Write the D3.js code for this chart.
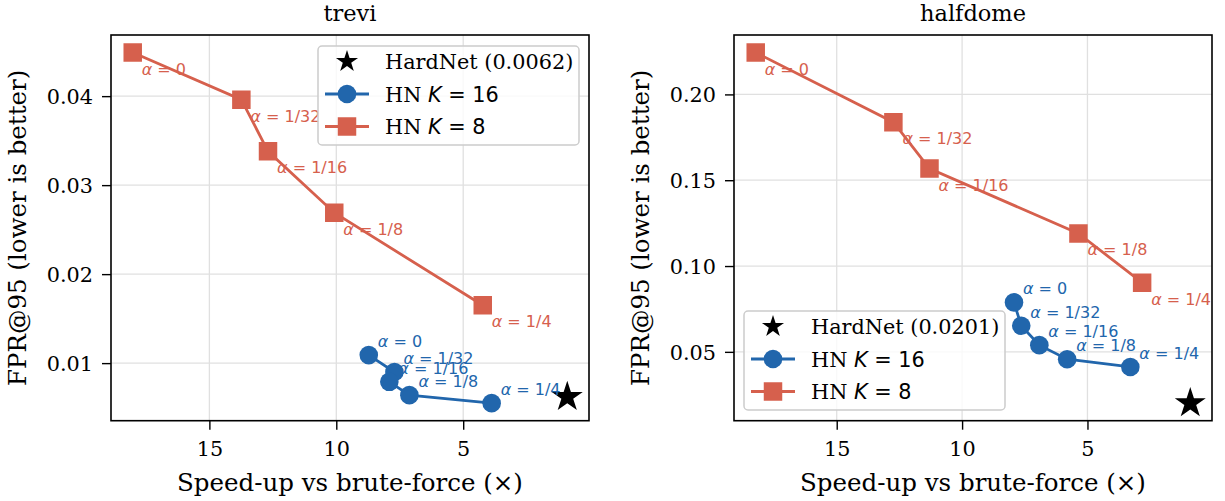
<!DOCTYPE html>
<meta charset="utf-8">
<script src="https://cdn.jsdelivr.net/npm/d3@7"></script>
<style>
body { margin: 0; background: #fff; }
text { fill: #000; }
.tick-label { font-family: "DejaVu Serif", serif; font-size: 20.8px; }
.axis-title { font-family: "DejaVu Serif", serif; font-size: 24.5px; }
.panel-title { font-family: "DejaVu Serif", serif; font-size: 22.5px; text-anchor: middle; }
.ann { font-family: "DejaVu Sans", sans-serif; font-size: 16px; }
.leg-text { font-family: "DejaVu Serif", serif; font-size: 20.8px; }
</style>
<body>
<div id="vis"></div>
<script>

// ---- data ----
var alphaLabels = ["0", "1/32", "1/16", "1/8", "1/4"];

// trevi
var treviSpeedK16 = [8.72, 7.71, 7.91, 7.12, 3.88];
var treviFprK16   = [0.0109, 0.0090, 0.0079, 0.0064, 0.0055];
var treviSpeedK8  = [18.02, 13.74, 12.69, 10.08, 4.23];
var treviFprK8    = [0.0449, 0.0396, 0.0338, 0.0269, 0.0165];
var treviHardNet  = 0.0062;

// halfdome
var halfSpeedK16 = [7.93, 7.64, 6.92, 5.81, 3.29];
var halfFprK16   = [0.0788, 0.0652, 0.0539, 0.0457, 0.0412];
var halfSpeedK8  = [18.23, 12.74, 11.30, 5.36, 2.82];
var halfFprK8    = [0.2244, 0.1838, 0.1568, 0.1190, 0.0903];
var halfHardNet  = 0.0201;

var hardNetSpeed = 0.9;

var xTicks = [15, 10, 5];
var treviYTicks = [0.01, 0.02, 0.03, 0.04];
var halfYTicks = [0.05, 0.10, 0.15, 0.20];

var blue = "#2166ac", red = "#d6604d";

var W = 1225, H = 501;
var svg = d3.select("#vis").append("svg")
    .attr("width", W).attr("height", H);

function zip(xs, ys) {
  return xs.map(function(x, i) { return {x: x, y: ys[i], a: alphaLabels[i]}; });
}

// matplotlib-like 5% margins
function padded(vals) {
  var lo = d3.min(vals), hi = d3.max(vals), m = (hi - lo) * 0.05;
  return [lo - m, hi + m];
}

function drawPanel(p) {
  var left = p.left, top = 35, width = 478, height = 385.7;
  var g = svg.append("g").attr("transform", "translate(" + left + "," + top + ")");

  var allX = p.k16.map(function(d) { return d.x; })
      .concat(p.k8.map(function(d) { return d.x; })).concat([hardNetSpeed]);
  var allY = p.k16.map(function(d) { return d.y; })
      .concat(p.k8.map(function(d) { return d.y; })).concat([p.hardnet]);
  var xd = padded(allX), yd = padded(allY);

  var x = d3.scaleLinear().domain([xd[1], xd[0]]).range([0, width]);
  var y = d3.scaleLinear().domain(yd).range([height, 0]);

  var clipId = "clip-" + p.name;
  g.append("clipPath").attr("id", clipId)
    .append("rect").attr("width", width).attr("height", height);

  // grid
  g.selectAll(".gx").data(xTicks).enter().append("line")
    .attr("x1", function(d) { return x(d); }).attr("x2", function(d) { return x(d); })
    .attr("y1", 0).attr("y2", height)
    .attr("stroke", "#e0e0e0").attr("stroke-width", 1.3);
  g.selectAll(".gy").data(p.yTicks).enter().append("line")
    .attr("y1", function(d) { return y(d); }).attr("y2", function(d) { return y(d); })
    .attr("x1", 0).attr("x2", width)
    .attr("stroke", "#e0e0e0").attr("stroke-width", 1.3);

  // axes
  var xAxis = g.append("g").attr("transform", "translate(0," + height + ")")
    .call(d3.axisBottom(x).tickValues(xTicks).tickSize(9).tickPadding(8).tickFormat(d3.format("d")));
  var yAxis = g.append("g")
    .call(d3.axisLeft(y).tickValues(p.yTicks).tickSize(9).tickPadding(9).tickFormat(d3.format(".2f")));
  [xAxis, yAxis].forEach(function(a) {
    a.select(".domain").remove();
    a.selectAll("line").attr("stroke", "#000").attr("stroke-width", 1.4);
    a.selectAll("text").attr("class", "tick-label").attr("font-size", null)
      .attr("font-family", null).style("fill", "#000");
  });
  xAxis.selectAll("text").attr("dy", null).attr("y", 35);
  yAxis.selectAll("text").attr("dy", "0.36em");

  var plot = g.append("g").attr("clip-path", "url(#" + clipId + ")");
  var line = d3.line().x(function(d) { return x(d.x); }).y(function(d) { return y(d.y); });

  function series(data, color, shape, size) {
    plot.append("path").datum(data).attr("d", line)
      .attr("fill", "none").attr("stroke", color).attr("stroke-width", 2.8);
    plot.selectAll(null).data(data).enter().append("path")
      .attr("transform", function(d) { return "translate(" + x(d.x) + "," + y(d.y) + ")"; })
      .attr("d", d3.symbol().type(shape).size(size))
      .attr("fill", color);
  }
  series(p.k16, blue, d3.symbolCircle, 272);
  series(p.k8, red, d3.symbolSquare, 342);

  // HardNet star
  plot.append("path")
    .attr("transform", "translate(" + x(hardNetSpeed) + "," + y(p.hardnet) + ")")
    .attr("d", d3.symbol().type(d3.symbolStar).size(298))
    .attr("fill", "#000");

  // alpha annotations
  function annotate(data, color, dx, dy) {
    var t = plot.selectAll(null).data(data).enter().append("text")
      .attr("class", "ann")
      .attr("x", function(d) { return x(d.x) + dx; })
      .attr("y", function(d) { return y(d.y) + dy; })
      .style("fill", color);
    t.append("tspan").attr("font-style", "italic").text("\u03b1");
    t.append("tspan").text(function(d) { return " = " + d.a; });
  }
  annotate(p.k16, blue, 9, -8);
  annotate(p.k8, red, 9, 22);

  // frame
  g.append("rect").attr("width", width).attr("height", height)
    .attr("fill", "none").attr("stroke", "#000").attr("stroke-width", 1.6);

  // titles
  g.append("text").attr("class", "panel-title")
    .attr("x", width / 2).attr("y", -14).text(p.name);
  g.append("text").attr("class", "axis-title").attr("text-anchor", "middle")
    .attr("x", width / 2).attr("y", height + 70)
    .text("Speed-up vs brute-force (\u00d7)");
  g.append("text").attr("class", "axis-title").attr("text-anchor", "middle")
    .attr("transform", "translate(" + (p.yLabelX - left) + "," + (height / 2) + ") rotate(-90)")
    .text("FPR@95 (lower is better)");

  // legend
  var lw = 261, lh = 99;
  var lx = p.legendPos === "upper right" ? width - 10 - lw : 10;
  var ly = p.legendPos === "upper right" ? 11 : height - 10.7 - lh;
  var leg = g.append("g").attr("transform", "translate(" + lx + "," + ly + ")");
  leg.append("rect").attr("width", lw).attr("height", lh).attr("rx", 4)
    .attr("fill", "#fff").attr("fill-opacity", 0.8)
    .attr("stroke", "#cccccc").attr("stroke-width", 1.5);

  var entries = [
    {label: "HardNet (" + d3.format(".4f")(p.hardnet) + ")", color: "#000", shape: d3.symbolStar, size: 151, line: false},
    {k: "16", color: blue, shape: d3.symbolCircle, size: 272, line: true},
    {k: "8", color: red, shape: d3.symbolSquare, size: 342, line: true}
  ];
  entries.forEach(function(e, i) {
    var cy = 15.5 + i * 32.5;
    if (e.line) {
      leg.append("line").attr("x1", 7).attr("x2", 51).attr("y1", cy).attr("y2", cy)
        .attr("stroke", e.color).attr("stroke-width", 2.8);
    }
    leg.append("path").attr("transform", "translate(29," + cy + ")")
      .attr("d", d3.symbol().type(e.shape).size(e.size)).attr("fill", e.color);
    var t = leg.append("text").attr("class", "leg-text").attr("x", 67).attr("y", cy + 7.5);
    if (e.label) {
      t.text(e.label);
    } else {
      t.append("tspan").text("HN ");
      t.append("tspan").attr("font-family", "DejaVu Sans").attr("font-style", "italic").text("K");
      t.append("tspan").attr("font-family", "DejaVu Sans").text(" = " + e.k);
    }
  });
}

drawPanel({name: "trevi", left: 111, yLabelX: 26, yTicks: treviYTicks,
  k16: zip(treviSpeedK16, treviFprK16), k8: zip(treviSpeedK8, treviFprK8),
  hardnet: treviHardNet, legendPos: "upper right"});

drawPanel({name: "halfdome", left: 734, yLabelX: 649, yTicks: halfYTicks,
  k16: zip(halfSpeedK16, halfFprK16), k8: zip(halfSpeedK8, halfFprK8),
  hardnet: halfHardNet, legendPos: "lower left"});

</script>
</body>
